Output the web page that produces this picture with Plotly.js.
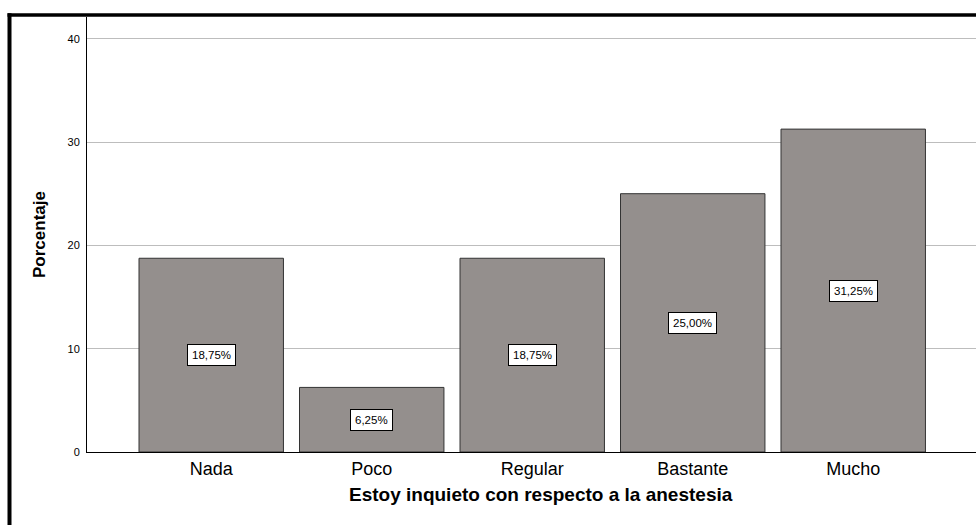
<!DOCTYPE html>
<html>
<head>
<meta charset="utf-8">
<script src="https://cdn.plot.ly/plotly-3.0.1.min.js"></script>
<style>
  html, body { margin: 0; padding: 0; background: #ffffff; }
  #chart { width: 976px; height: 525px; }
</style>
</head>
<body>
<div id="chart"></div>
<script>
// ---- data ----
const categories = ['Nada', 'Poco', 'Regular', 'Bastante', 'Mucho'];
const percentages = [18.75, 6.25, 18.75, 25.00, 31.25];
const yTickValues = [0, 10, 20, 30, 40];
const xAxisTitle = 'Estoy inquieto con respecto a la anestesia';
const yAxisTitle = 'Porcentaje';

// ---- build ----
const FONT = 'Arial, "Liberation Sans", sans-serif';
const fmt = v => v.toFixed(2).replace('.', ',') + '%';

const trace = {
  type: 'bar',
  x: categories,
  y: percentages,
  marker: { color: '#948f8d', line: { color: '#333333', width: 1 } },
  hoverinfo: 'none'
};

const labelAnnotations = categories.map((c, i) => ({
  x: c, y: percentages[i] / 2, xref: 'x', yref: 'y',
  text: fmt(percentages[i]),
  showarrow: false,
  bgcolor: '#ffffff', bordercolor: '#000000', borderwidth: 1, borderpad: 4,
  font: { family: FONT, size: 11.5, color: '#000000' }
}));

const L = 87, T = 17, B = 73, W = 976, H = 525;
const pw = W - L, ph = H - T - B;
const px2x = p => (p - L) / pw;
const py2y = p => (H - B - p) / ph;

const layout = {
  width: W, height: H,
  margin: { l: L, r: 0, t: T, b: B, pad: 0 },
  paper_bgcolor: '#ffffff', plot_bgcolor: '#ffffff',
  showlegend: false,
  bargap: 0.1,
  font: { family: FONT, color: '#000000' },
  xaxis: {
    type: 'category',
    range: [-0.774, 4.765],
    showline: true, linecolor: '#000000', linewidth: 1,
    showgrid: false, zeroline: false, ticks: '',
    ticklabelstandoff: 0,
    tickfont: { family: FONT, size: 18, color: '#000000' },
    fixedrange: true
  },
  yaxis: {
    range: [0, 42.1],
    tickvals: yTickValues,
    ticktext: yTickValues.map(String),
    showline: true, linecolor: '#000000', linewidth: 1,
    showgrid: true, gridcolor: '#bdbdbd', gridwidth: 1,
    zeroline: false, ticks: '',
    ticklabelstandoff: 4,
    tickfont: { family: FONT, size: 11, color: '#000000' },
    title: { text: yAxisTitle, standoff: 17, font: { family: FONT, size: 17, color: '#000000', weight: 'bold' } },
    fixedrange: true
  },
  annotations: labelAnnotations.concat([{
    xref: 'paper', yref: 'paper',
    x: px2x(541), y: py2y(495),
    xanchor: 'center', yanchor: 'middle',
    text: '<b>' + xAxisTitle + '</b>',
    showarrow: false,
    font: { family: FONT, size: 19, color: '#000000' }
  }]),
  shapes: [
    { type: 'line', xref: 'paper', yref: 'paper',
      x0: px2x(7.5), x1: px2x(990), y0: py2y(15), y1: py2y(15),
      line: { color: '#000000', width: 3.5 } },
    { type: 'line', xref: 'paper', yref: 'paper',
      x0: px2x(9.5), x1: px2x(9.5), y0: py2y(13.3), y1: py2y(540),
      line: { color: '#000000', width: 4 } }
  ]
};

Plotly.newPlot('chart', [trace], layout, { displayModeBar: false, staticPlot: true });
</script>
</body>
</html>
